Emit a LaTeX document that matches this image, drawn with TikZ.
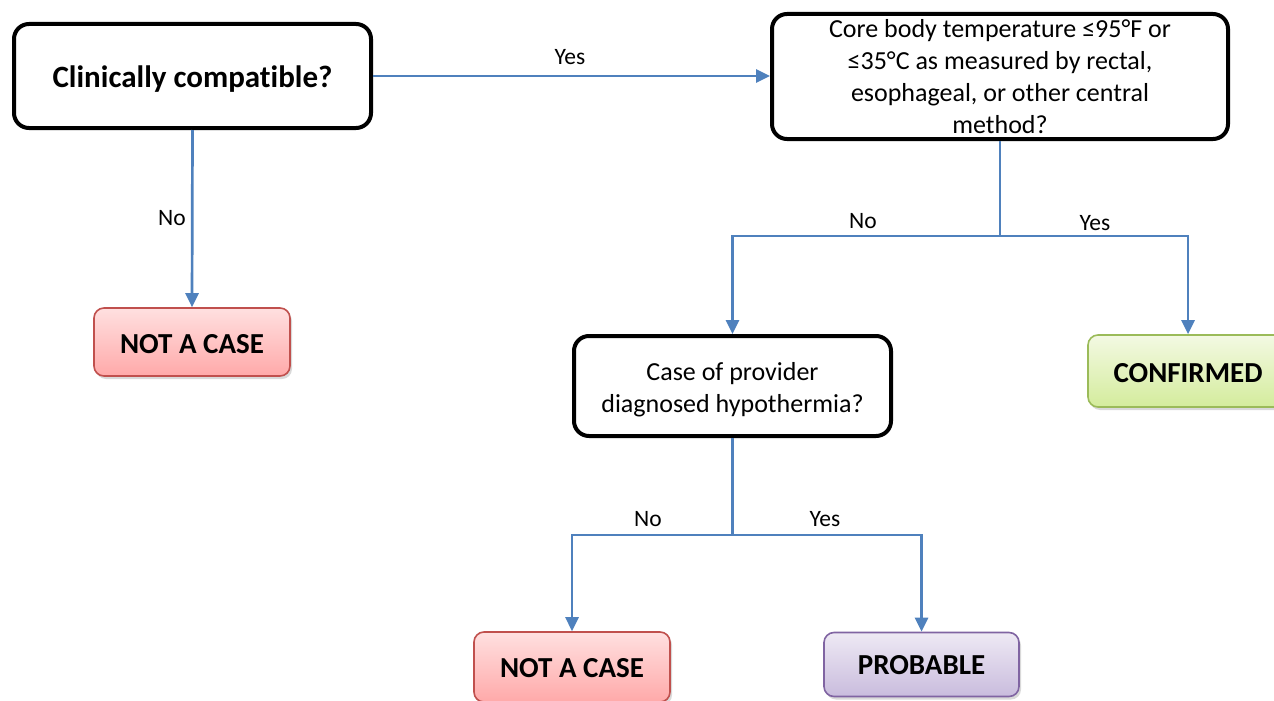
\documentclass[tikz,border=0pt]{standalone}
\usepackage{fontspec}
\setmainfont{Carlito}[Ligatures=NoCommon]
\usetikzlibrary{arrows.meta,shadows}
\definecolor{lnblue}{HTML}{4F81BD}
\definecolor{redbd}{HTML}{C0504D}
\definecolor{redtop}{HTML}{FFE0E0}
\definecolor{redbot}{HTML}{FFA9A9}
\definecolor{grnbd}{HTML}{9BBB59}
\definecolor{grntop}{HTML}{F3F9E3}
\definecolor{grnbot}{HTML}{D4EC9C}
\definecolor{purbd}{HTML}{8064A2}
\definecolor{purtop}{HTML}{EEE9F4}
\definecolor{purbot}{HTML}{C9BCDD}
\newcommand{\lowerby}[2]{\raisebox{-#1}[\height][\depth]{#2}}
\tikzset{
  question/.style={draw=black, line width=4pt, rounded corners=15pt, fill=white,
    align=center, inner sep=0pt, font=\fontsize{26}{32}\selectfont},
  outcome/.style={rounded corners=10pt, line width=1.6pt, align=center, inner sep=0pt,
    font=\fontsize{29}{32}\selectfont\bfseries,
    drop shadow={shadow xshift=2pt, shadow yshift=-3pt, opacity=0.25, fill=black!60}},
  redbox/.style={outcome, draw=redbd, top color=redtop, bottom color=redbot},
  grnbox/.style={outcome, draw=grnbd, top color=grntop, bottom color=grnbot},
  purbox/.style={outcome, draw=purbd, top color=purtop, bottom color=purbot},
  conn/.style={draw=lnblue, line width=2.7pt},
  arr/.style={conn, -{Triangle[length=14pt, width=13pt]}},
  lbl/.style={font=\fontsize{23.5}{28}\selectfont, inner sep=0pt}
}
\begin{document}
\begin{tikzpicture}[x=1pt, y=-1pt]
\useasboundingbox (0,0) rectangle (1274,701);
\node[question, minimum width=357pt, minimum height=104pt, font=\fontsize{31}{32}\selectfont\bfseries] (c1) at (192.5,76) {\lowerby{3pt}{Clinically compatible?}};
\node[question, minimum width=456pt, minimum height=125pt] (c2) at (1000,76.5) {Core body temperature ≤95°F or\\ ≤35°C as measured by rectal,\\ esophageal, or other central\\ method?};
\node[question, minimum width=317pt, minimum height=100pt] (c3) at (732.5,386) {\lowerby{4pt}{\begin{tabular}{@{}c@{}}Case of provider\\ diagnosed hypothermia?\end{tabular}}};
\node[redbox, minimum width=196pt, minimum height=68pt] (n1) at (192,342) {\lowerby{2pt}{NOT A CASE}};
\node[grnbox, minimum width=200pt, minimum height=72pt] (cf) at (1188,371) {\lowerby{2pt}{CONFIRMED}};
\node[redbox, minimum width=196pt, minimum height=70pt] (n2) at (572,667) {\lowerby{1pt}{NOT A CASE}};
\node[purbox, minimum width=195pt, minimum height=64pt] (pb) at (921.5,664.5) {\lowerby{1pt}{PROBABLE}};
\coordinate (j1) at (1000,236);
\coordinate (j2) at (732.5,535);
\draw[arr] (c1.east) -- (c1.east -| c2.west);
\draw[arr] (c1.south) -- (n1.north);
\draw[conn] (c2.south) -- (j1);
\draw[arr] (j1) -| (c3.north);
\draw[arr] (j1) -| (cf.north);
\draw[conn] (c3.south) -- (j2);
\draw[arr] (j2) -| (n2.north);
\draw[arr] (j2) -| (pb.north);
\node[lbl] (l1) at (570,57) {Yes};
\node[lbl] (l2) at (172,218) {No};
\node[lbl] (l3) at (863,221) {No};
\node[lbl] (l4) at (1095,223) {Yes};
\node[lbl] (l5) at (648,519) {No};
\node[lbl] (l6) at (825,519) {Yes};
\end{tikzpicture}
\end{document}
